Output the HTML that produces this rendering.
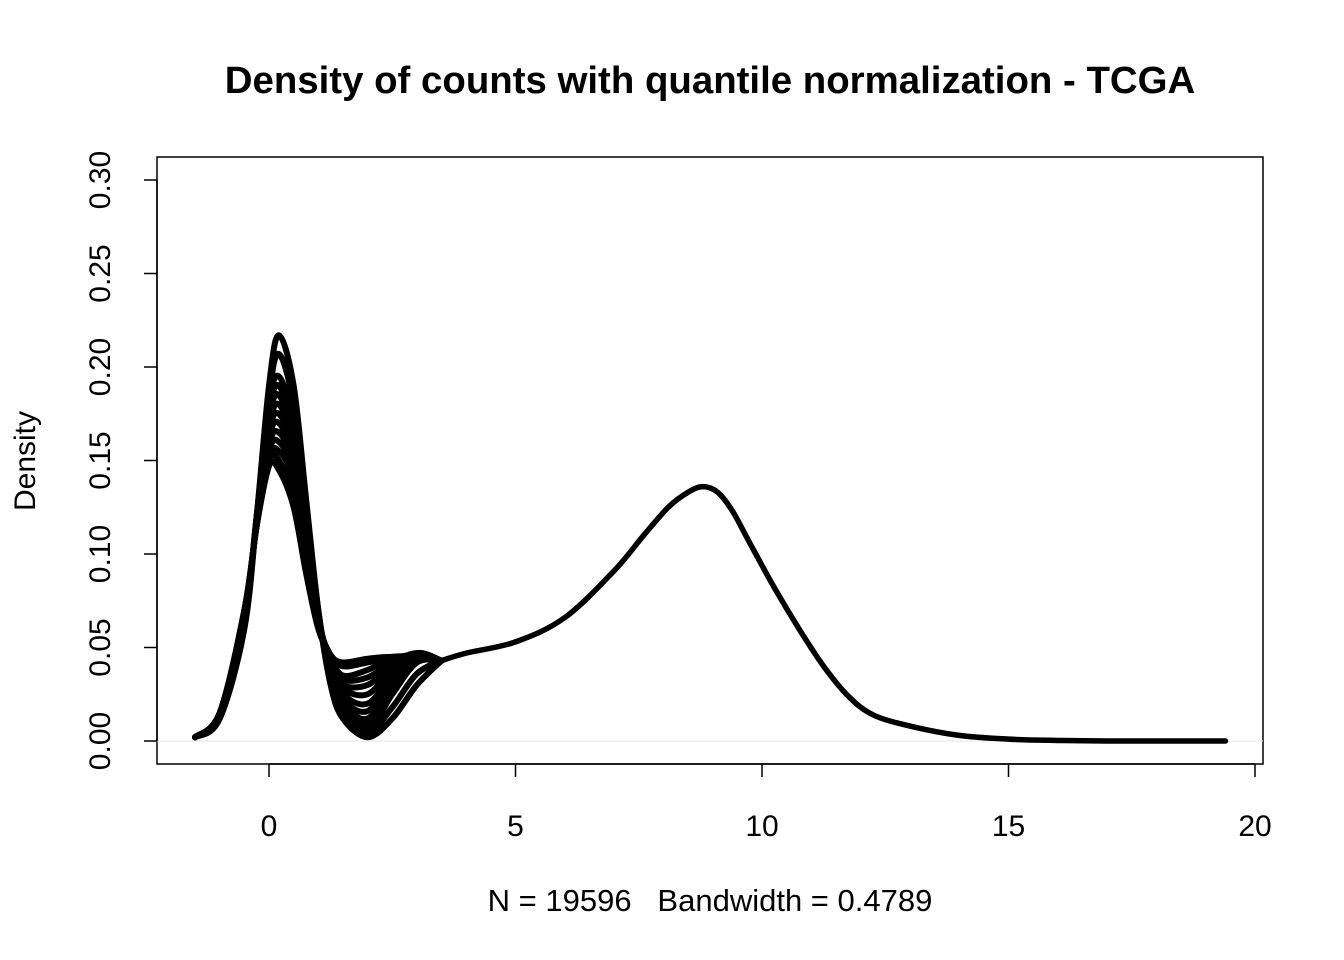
<!DOCTYPE html>
<html><head><meta charset="utf-8"><style>
body{margin:0;background:#fff}
svg{display:block;font-family:"Liberation Sans",Arial,sans-serif}
</style></head><body>
<svg id="chart" width="1344" height="960">
<text x="710" y="93" text-anchor="middle" font-size="38.4" font-weight="bold">Density of counts with quantile normalization - TCGA</text>
<text x="710" y="911" text-anchor="middle" font-size="31" style="white-space:pre" xml:space="preserve">N = 19596   Bandwidth = 0.4789</text>
<text transform="translate(35,461) rotate(-90)" text-anchor="middle" font-size="30">Density</text>
<rect x="157" y="157" width="1106" height="607" fill="none" stroke="#000" stroke-width="1.5"/>
<g id="axes"></g>
<g id="marks"></g>
</svg>
<script>
const xTicks=[0,5,10,15,20];
const yTicks=[0,0.05,0.10,0.15,0.20,0.25,0.30];
const yTickLabels=["0.00","0.05","0.10","0.15","0.20","0.25","0.30"];
const leftX=[-1.5,-1,-0.5,-0.25,0,0.2,0.5,0.75,1,1.25,1.5,2,2.5,3,3.5];
const s1=[.002,.012,.06,.12,.19,.217,.19,.13,.07,.03,.012,.002,.012,.03,.043];
const s2=[.002,.012,.062,.12,.185,.207,.18,.125,.07,.032,.014,.004,.018,.036,.043];
const s3=[.002,.013,.065,.12,.18,.195,.17,.12,.068,.034,.016,.006,.025,.042,.043];
const s3b=[.002,.013,.065,.12,.176,.19,.165,.118,.068,.035,.018,.009,.028,.044,.043];
const s4=[.002,.013,.066,.118,.172,.185,.16,.115,.068,.036,.02,.012,.03,.045,.043];
const s4b=[.002,.014,.066,.118,.168,.18,.158,.112,.067,.038,.022,.016,.033,.046,.043];
const s5=[.002,.014,.067,.117,.165,.175,.155,.11,.066,.04,.025,.02,.035,.046,.043];
const s5b=[.002,.014,.067,.117,.162,.17,.151,.108,.066,.041,.028,.025,.038,.047,.043];
const s6=[.002,.014,.068,.116,.158,.165,.148,.105,.065,.042,.03,.03,.04,.047,.043];
const s6b=[.002,.015,.068,.116,.155,.16,.144,.102,.064,.044,.033,.034,.042,.047,.043];
const s7=[.002,.015,.069,.115,.152,.155,.14,.1,.063,.045,.035,.038,.044,.046,.043];
const s7b=[.002,.015,.07,.115,.15,.15,.132,.095,.062,.046,.04,.042,.045,.045,.043];
const s8=[.002,.015,.07,.115,.147,.145,.125,.09,.06,.046,.042,.044,.045,.044,.043];
const tailX=[3.5,4,5,6,7,7.6,8.1,8.5,8.8,9.1,9.4,9.75,10.25,10.75,11.25,11.75,12.25,13,14,15,16,17,19.4];
const tailY=[.043,.047,.053,.066,.091,.11,.125,.133,.136,.133,.123,.106,.082,.06,.04,.024,.014,.008,.003,.001,.0003,0,0];

const xs=v=>269+v*49.3;
const ys=v=>741-v*1870;
const NS="http://www.w3.org/2000/svg";
const axes=document.getElementById('axes'), marks=document.getElementById('marks');
function mk(tag,attrs,parent){const e=document.createElementNS(NS,tag);for(const k in attrs)e.setAttribute(k,attrs[k]);parent.appendChild(e);return e;}

const zl=mk('line',{x1:157,x2:1263,y1:ys(0),y2:ys(0),stroke:'#e6e6e6','stroke-width':1},axes);


const xa=mk('line',{x1:xs(xTicks[0]),x2:xs(xTicks[xTicks.length-1]),y1:764,y2:764,stroke:'#000','stroke-width':1.5},axes);


xTicks.forEach(t=>{
  const l=mk('line',{x1:xs(t),x2:xs(t),y1:764,y2:777,stroke:'#000','stroke-width':1.5},axes);
  
  
  const tx=mk('text',{x:xs(t),y:836,'text-anchor':'middle','font-size':30},axes);
  tx.textContent=t;
  
  
});
const ya=mk('line',{x1:157,x2:157,y1:ys(yTicks[0]),y2:ys(yTicks[yTicks.length-1]),stroke:'#000','stroke-width':1.5},axes);


yTicks.forEach((t,i)=>{
  const l=mk('line',{x1:144,x2:157,y1:ys(t),y2:ys(t),stroke:'#000','stroke-width':1.5},axes);
  
  
  const tx=mk('text',{transform:`translate(110,${ys(t)}) rotate(-90)`,'text-anchor':'middle','font-size':30},axes);
  tx.textContent=yTickLabels[i];
  
  
});

function smoothPath(X,Y){
  const P=X.map((x,i)=>[xs(x),ys(Y[i])]);
  let d=`M${P[0][0]},${P[0][1]}`;
  for(let i=0;i<P.length-1;i++){
    const p0=P[Math.max(0,i-1)],p1=P[i],p2=P[i+1],p3=P[Math.min(P.length-1,i+2)];
    const c1=[p1[0]+(p2[0]-p0[0])/6,p1[1]+(p2[1]-p0[1])/6];
    const c2=[p2[0]-(p3[0]-p1[0])/6,p2[1]-(p3[1]-p1[1])/6];
    d+=`C${c1[0]},${c1[1]} ${c2[0]},${c2[1]} ${p2[0]},${p2[1]}`;
  }
  return d;
}
[s8,s7b,s7,s6b,s6,s5b,s5,s4b,s4,s3b,s3,s2,s1].forEach((s,i)=>{
  const p=mk('path',{d:smoothPath(leftX,s),fill:'none',stroke:'#000','stroke-width':6,'stroke-linejoin':'round','stroke-linecap':'round'},marks);
  
  
});
const tp=mk('path',{d:smoothPath(tailX,tailY),fill:'none',stroke:'#000','stroke-width':5.5,'stroke-linejoin':'round','stroke-linecap':'round'},marks);


</script>
</body></html>
